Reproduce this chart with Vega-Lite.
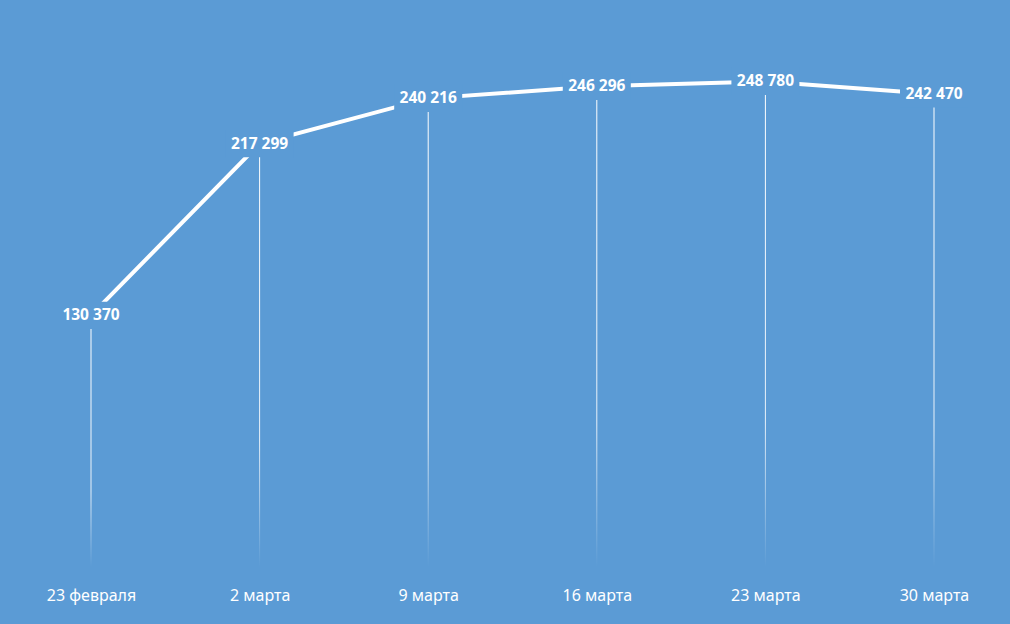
{
  "$schema": "https://vega.github.io/schema/vega-lite/v6.json",
  "width": 1010,
  "height": 573,
  "autosize": {"type": "none"},
  "padding": {"left": 0, "top": 0, "right": 0, "bottom": 51},
  "background": "#5B9BD5",
  "config": {"view": {"stroke": null}},
  "data": {
    "values": [
      {"d": "23 февраля", "v": 130370, "t": "130 370"},
      {"d": "2 марта", "v": 217299, "t": "217 299"},
      {"d": "9 марта", "v": 240216, "t": "240 216"},
      {"d": "16 марта", "v": 246296, "t": "246 296"},
      {"d": "23 марта", "v": 248780, "t": "248 780"},
      {"d": "30 марта", "v": 242470, "t": "242 470"}
    ]
  },
  "encoding": {
    "x": {
      "field": "d", "type": "ordinal", "sort": null,
      "scale": {"type": "point", "range": [91, 934], "padding": 0},
      "axis": {"title": null, "domain": false, "ticks": false, "grid": false, "labelAngle": 0,
        "labelColor": "#FFFFFF", "labelFont": "Noto Sans", "labelFontSize": 16, "labelPadding": 22, "labelBaseline": "middle"}
    },
    "y": {
      "field": "v", "type": "quantitative",
      "scale": {"domain": [0, 290000], "nice": false, "zero": true},
      "axis": null
    }
  },
  "layer": [
    {"mark": {"type": "line", "color": "#FFFFFF", "strokeWidth": 4}},
    {
      "mark": {"type": "bar", "width": 1,
        "fill": {"gradient": "linear", "x1": 0, "y1": 0, "x2": 0, "y2": 1,
          "stops": [
            {"offset": 0, "color": "rgba(255,255,255,1)"},
            {"offset": 0.7, "color": "rgba(255,255,255,0.85)"},
            {"offset": 1, "color": "rgba(255,255,255,0)"}
          ]}},
      "encoding": {"y2": {"datum": 3000}}
    },
    {
      "mark": {"type": "point", "shape": "M-1,-0.4H1V0.4H-1Z", "size": 4624, "filled": true,
        "fill": "#5B9BD5", "stroke": null, "opacity": 1}
    },
    {
      "mark": {"type": "text", "color": "#FFFFFF", "font": "Noto Sans", "fontWeight": "bold", "fontSize": 15.5, "baseline": "middle"},
      "encoding": {"text": {"field": "t"}}
    }
  ]
}
